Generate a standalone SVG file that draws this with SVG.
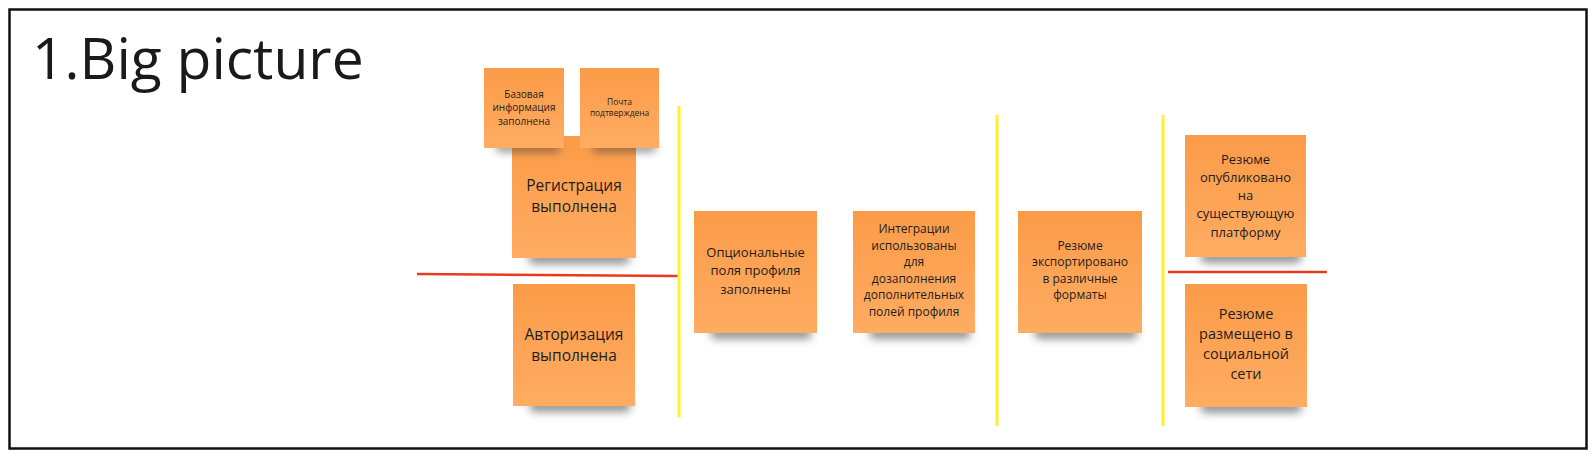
<svg xmlns="http://www.w3.org/2000/svg" width="1595" height="455" viewBox="0 0 1595 455">
<style>
.note{fill:url(#ng);}
.sh{fill:#3a3a3a;opacity:0.55;filter:url(#blur);}
.t{font-family:"Open Sans","Noto Sans",sans-serif;fill:#1e1e1e;text-anchor:middle;}
.red{stroke:#ea3a1e;stroke-width:2.5;fill:none;}
.yel{stroke:#fff02a;stroke-width:3;fill:none;}
</style>
<defs>
<linearGradient id="ng" x1="0" y1="0" x2="0" y2="1">
<stop offset="0" stop-color="#fb9b48"/>
<stop offset="1" stop-color="#ffac62"/>
</linearGradient>
<filter id="blur" x="-30%" y="-100%" width="160%" height="300%">
<feGaussianBlur stdDeviation="4"/>
</filter>
</defs>
<rect x="0" y="0" width="1595" height="455" fill="#ffffff"/>
<rect x="9.5" y="9.5" width="1577" height="439" fill="none" stroke="#111" stroke-width="2.5"/>
<text class="t" x="32" y="79" style="font-size:57px;text-anchor:start;fill:#1a1a1a">1.Big picture</text>

<g id="connectors">
<line class="red" x1="417" y1="274" x2="678" y2="276"/>
<line class="red" x1="1168" y1="272" x2="1327" y2="272"/>
<line class="yel" x1="679" y1="106" x2="679" y2="417"/>
<line class="yel" x1="997" y1="115" x2="997" y2="426"/>
<line class="yel" x1="1163" y1="115" x2="1163" y2="426"/>
</g>

<g id="n-registration">
<rect class="sh" x="528" y="252" width="102" height="12" rx="6"/>
<rect class="note" x="512" y="136" width="124" height="122"/>
<text class="t" style="font-size:15.5px"><tspan x="574" y="190.5">Регистрация</tspan><tspan x="574" y="211.5">выполнена</tspan></text>
</g>

<g id="n-basic">
<rect class="sh" x="496" y="143" width="64" height="9" rx="4"/>
<rect class="note" x="484" y="68" width="80" height="80"/>
<text class="t" style="font-size:10px"><tspan x="524" y="97.5">Базовая</tspan><tspan x="524" y="111">информация</tspan><tspan x="524" y="124.5">заполнена</tspan></text>
</g>

<g id="n-email">
<rect class="sh" x="592" y="143" width="64" height="9" rx="4"/>
<rect class="note" x="580" y="68" width="79" height="80"/>
<text class="t" style="font-size:8.4px"><tspan x="619.5" y="105">Почта</tspan><tspan x="619.5" y="116">подтверждена</tspan></text>
</g>

<g id="n-auth">
<rect class="sh" x="529" y="400" width="102" height="12" rx="6"/>
<rect class="note" x="513" y="284" width="122" height="122"/>
<text class="t" style="font-size:15.5px"><tspan x="574" y="339.5">Авторизация</tspan><tspan x="574" y="360.5">выполнена</tspan></text>
</g>

<g id="n-optional">
<rect class="sh" x="710" y="327" width="102" height="12" rx="6"/>
<rect class="note" x="694" y="211" width="123" height="122"/>
<text class="t" style="font-size:13px"><tspan x="755.5" y="256.5">Опциональные</tspan><tspan x="755.5" y="275">поля профиля</tspan><tspan x="755.5" y="293.5">заполнены</tspan></text>
</g>

<g id="n-integrations">
<rect class="sh" x="869" y="327" width="102" height="12" rx="6"/>
<rect class="note" x="853" y="211" width="122" height="122"/>
<text class="t" style="font-size:12px"><tspan x="914" y="233">Интеграции</tspan><tspan x="914" y="249.6">использованы</tspan><tspan x="914" y="266.2">для</tspan><tspan x="914" y="282.8">дозаполнения</tspan><tspan x="914" y="299.4">дополнительных</tspan><tspan x="914" y="316">полей профиля</tspan></text>
</g>

<g id="n-export">
<rect class="sh" x="1034" y="327" width="104" height="12" rx="6"/>
<rect class="note" x="1018" y="211" width="124" height="122"/>
<text class="t" style="font-size:12px"><tspan x="1080" y="250">Резюме</tspan><tspan x="1080" y="266.3">экспортировано</tspan><tspan x="1080" y="282.6">в различные</tspan><tspan x="1080" y="299">форматы</tspan></text>
</g>

<g id="n-published">
<rect class="sh" x="1200" y="251" width="102" height="12" rx="6"/>
<rect class="note" x="1185" y="135" width="121" height="122"/>
<text class="t" style="font-size:13px"><tspan x="1245.5" y="163.5">Резюме</tspan><tspan x="1245.5" y="181.8">опубликовано</tspan><tspan x="1245.5" y="200.1">на</tspan><tspan x="1245.5" y="218.4">существующую</tspan><tspan x="1245.5" y="236.7">платформу</tspan></text>
</g>

<g id="n-social">
<rect class="sh" x="1200" y="401" width="102" height="12" rx="6"/>
<rect class="note" x="1185" y="284" width="122" height="123"/>
<text class="t" style="font-size:14.5px"><tspan x="1246" y="319">Резюме</tspan><tspan x="1246" y="339">размещено в</tspan><tspan x="1246" y="359">социальной</tspan><tspan x="1246" y="378.5">сети</tspan></text>
</g>
</svg>
